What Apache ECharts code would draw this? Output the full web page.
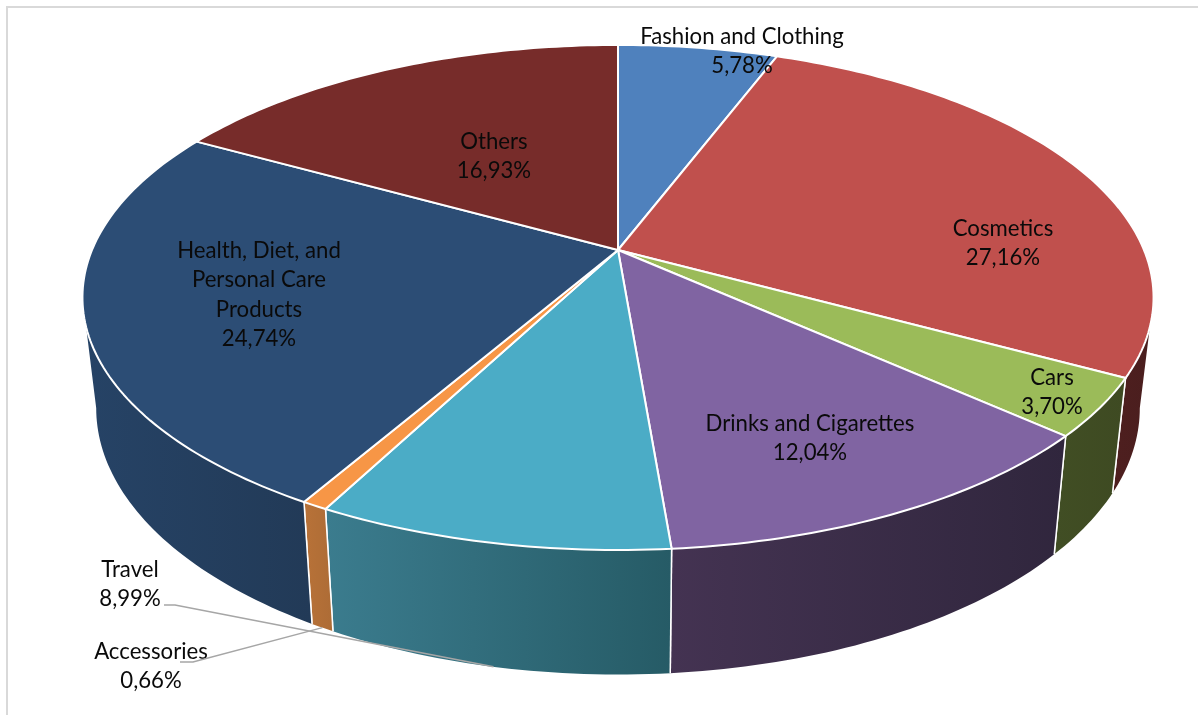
<!DOCTYPE html>
<html>
<head>
<meta charset="utf-8">
<style>html,body{margin:0;padding:0;background:#fff}#chart{width:1198px;height:715px}</style>
<script src="https://cdn.jsdelivr.net/npm/echarts@6/dist/echarts.min.js"></script>
</head>
<body>
<div id="chart"></div>
<script>
// Advertising share by product category, clockwise from twelve o'clock.
const categories = ['Fashion and Clothing', 'Cosmetics', 'Cars', 'Drinks and Cigarettes', 'Travel', 'Accessories', 'Health, Diet, and\nPersonal Care\nProducts', 'Others'];
const shares = [5.78, 27.16, 3.70, 12.04, 8.99, 0.66, 24.74, 16.93];

const topColors = ['#4F81BD', '#C0504D', '#9BBB59', '#8064A2', '#4BACC6', '#F79646', '#2C4D75', '#772C2A'];
const wallColors = [
  ['#3A5F8C', '#3A5F8C'], ['#4E1F1F', '#4A1E1E'], ['#414E24', '#3E4A22'], ['#443352', '#30263D'],
  ['#3B7C8E', '#265B66'], ['#B87238', '#AD6C36'], ['#264366', '#223A57'], ['#5A2020', '#5A2020']
];
// Horizontal centre of each label and of its first line, in page pixels.
const labelAnchors = [[742, 37], [1003, 228.5], [1052, 378], [810, 424], [130, 570], [151, 652], [259, 251], [494, 142]];

// Perspective model of the disc: unit-circle points map to the two rims.
const VIEW = { cx: 618, tilt: 0.188, top: { cy: 250, ax: 526, ay: 243.6 }, bottom: { cy: 358, ax: 512.5, ay: 257 } };
const total = shares.reduce((a, b) => a + b, 0);
const startOf = i => shares.slice(0, i).reduce((a, b) => a + b, 0);
const toAngle = v => v / total * Math.PI * 2;

// Angles at which the rims are widest: the front wall lies between them.
const FRONT_START = Math.acos(-VIEW.tilt);
const FRONT_END = Math.PI * 2 - FRONT_START;

function project(angle, rim) {
  const X = Math.sin(angle), Y = Math.cos(angle), d = 1 + VIEW.tilt * Y;
  return [VIEW.cx + rim.ax * X / d, rim.cy - rim.ay * Y / d];
}
function arc(a0, a1, rim) {
  const n = Math.max(2, Math.ceil((a1 - a0) / (Math.PI / 180)));
  const pts = [];
  for (let k = 0; k <= n; k++) pts.push(project(a0 + (a1 - a0) * k / n, rim));
  return pts;
}
function sliceAngles(i, value) {
  const a0 = toAngle(startOf(i));
  return [a0, a0 + toAngle(value)];
}
const percentText = v => v.toFixed(2).replace('.', ',') + '%';

function renderWall(params, api) {
  const i = params.dataIndex;
  const [a0, a1] = sliceAngles(i, api.value(0));
  const children = [];
  const s = Math.max(a0, FRONT_START), e = Math.min(a1, FRONT_END);
  if (e > s) {
    const upper = arc(s, e, VIEW.top), lower = arc(s, e, VIEW.bottom);
    children.push({
      type: 'polygon',
      shape: { points: upper.concat(lower.slice().reverse()) },
      style: { fill: new echarts.graphic.LinearGradient(0, 0, 1, 0, [
        { offset: 0, color: wallColors[i][0] }, { offset: 1, color: wallColors[i][1] }
      ]) }
    });
  }
  [a0, a1].forEach(a => {
    if (a < FRONT_START || a > FRONT_END) return;
    const p = project(a, VIEW.top), q = project(a, VIEW.bottom);
    children.push({
      type: 'line',
      shape: { x1: p[0], y1: p[1], x2: q[0], y2: q[1] },
      style: { stroke: '#fff', lineWidth: 1.5 }
    });
  });
  return { type: 'group', children };
}

function renderTop(params, api) {
  const i = params.dataIndex;
  const [a0, a1] = sliceAngles(i, api.value(0));
  return {
    type: 'polygon',
    shape: { points: [[VIEW.cx, VIEW.top.cy]].concat(arc(a0, a1, VIEW.top)) },
    style: { fill: topColors[i], stroke: '#fff', lineWidth: 2, lineJoin: 'round' }
  };
}

// Outside labels connect to the lower rim at the middle of their slice.
const leaderStarts = { 4: [[164, 605], [175, 605]], 5: [[180, 662], [193, 662]] };

function renderLabel(params, api) {
  const i = params.dataIndex;
  const value = api.value(0);
  const lines = categories[i].split('\n').concat(percentText(value));
  const [x, y] = labelAnchors[i];
  const children = lines.map((line, k) => ({
    type: 'text',
    style: {
      x, y: y + k * 29.3, text: line, align: 'center', verticalAlign: 'middle',
      font: '22.2px Lato, Carlito, sans-serif', fill: '#0a0a0a'
    }
  }));
  if (leaderStarts[i]) {
    const [a0, a1] = sliceAngles(i, value);
    children.push({
      type: 'polyline',
      shape: { points: leaderStarts[i].concat([project((a0 + a1) / 2, VIEW.bottom)]) },
      style: { fill: 'none', stroke: '#a6a6a6', lineWidth: 1.5 }
    });
  }
  return { type: 'group', children };
}

const chart = echarts.init(document.getElementById('chart'), null, { renderer: 'canvas' });
chart.setOption({
  animation: false,
  backgroundColor: '#fff',
  graphic: [
    { type: 'line', z: 0, shape: { x1: 7, y1: 7, x2: 1198, y2: 7 }, style: { stroke: '#d9d9d9', lineWidth: 2 } },
    { type: 'line', z: 0, shape: { x1: 7, y1: 6, x2: 7, y2: 715 }, style: { stroke: '#d9d9d9', lineWidth: 2 } }
  ],
  series: [
    { type: 'custom', coordinateSystem: 'none', z: 1, silent: true, renderItem: renderWall, data: shares },
    { type: 'custom', coordinateSystem: 'none', z: 2, silent: true, renderItem: renderTop, data: shares },
    { type: 'custom', coordinateSystem: 'none', z: 3, silent: true, renderItem: renderLabel, data: shares }
  ]
});
</script>
</body>
</html>
